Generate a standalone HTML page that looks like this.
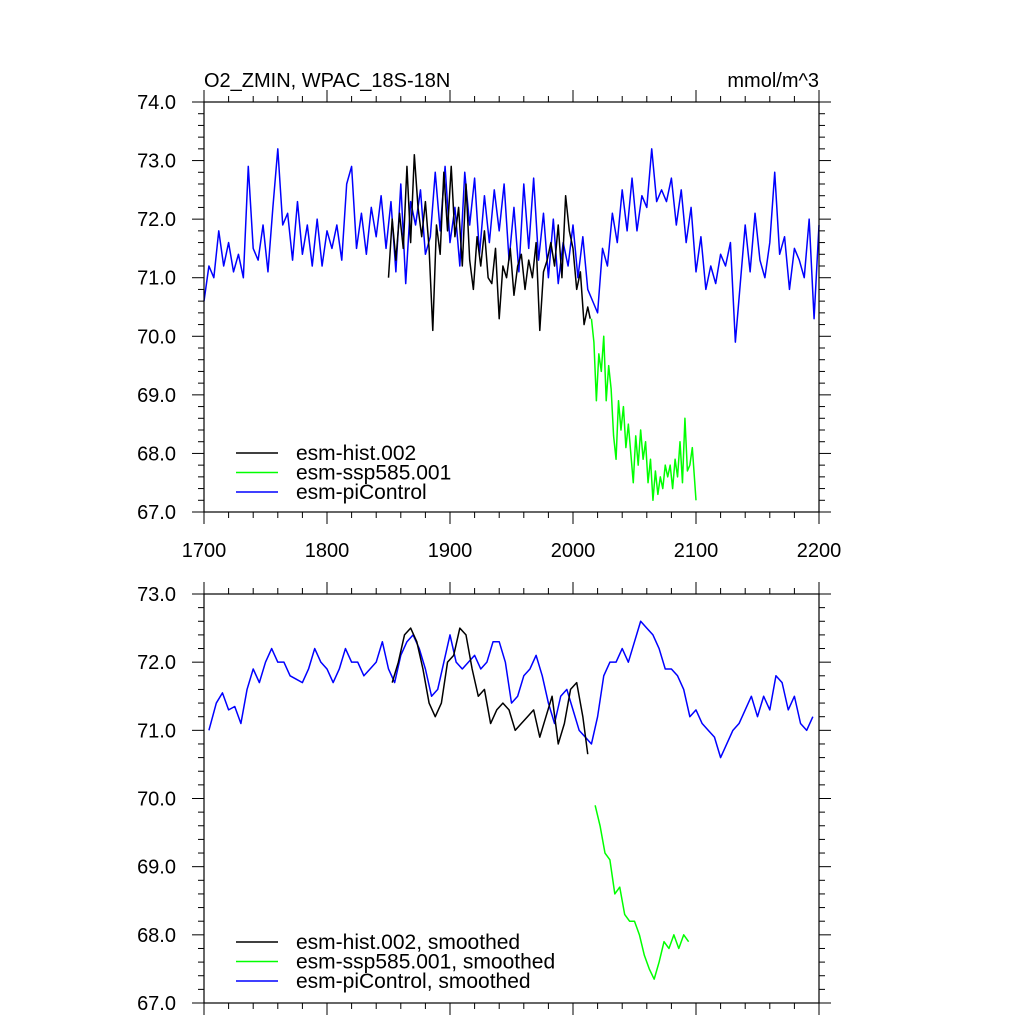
<!DOCTYPE html>
<html><head><meta charset="utf-8"><style>
body{margin:0;background:#fff}svg{display:block;font-family:"Liberation Sans",sans-serif}
</style></head><body>
<svg id="c" width="1024" height="1024"></svg>
<script>
const piYears=[];for(let y=1700;y<=2200;y+=4)piYears.push(y);
const piValues=[70.6,71.2,71.0,71.8,71.2,71.6,71.1,71.4,71.0,72.9,71.5,71.3,71.9,71.1,72.2,73.2,71.9,72.1,71.3,72.3,71.4,71.9,71.2,72.0,71.2,71.8,71.5,71.9,71.3,72.6,72.9,71.5,72.1,71.4,72.2,71.7,72.4,71.5,72.3,71.1,72.6,70.9,72.3,71.9,72.5,71.4,71.7,72.8,71.8,72.9,71.6,72.2,71.2,72.8,71.9,72.7,71.4,72.4,71.6,72.5,71.8,72.6,71.3,72.2,71.1,72.6,71.5,72.7,71.3,72.1,71.0,72.0,70.9,71.6,71.2,71.9,71.0,71.7,70.8,70.6,70.4,71.5,71.2,72.1,71.6,72.5,71.8,72.7,71.8,72.4,72.2,73.2,72.3,72.5,72.3,72.7,71.9,72.5,71.6,72.2,71.1,71.7,70.8,71.2,70.9,71.4,71.2,71.6,69.9,70.9,71.9,71.1,72.1,71.3,71.0,71.6,72.8,71.4,71.7,70.8,71.5,71.3,71.0,72.0,70.3,71.9];
const histYears=[1850,1853,1856,1859,1862,1865,1868,1871,1874,1877,1880,1883,1886,1889,1892,1895,1898,1901,1904,1907,1910,1913,1916,1919,1922,1925,1928,1931,1934,1937,1940,1943,1946,1949,1952,1955,1958,1961,1964,1967,1970,1973,1976,1979,1982,1985,1988,1991,1994,1997,2000,2003,2006,2009,2012,2014];
const histValues=[71.0,72.0,71.3,72.1,71.5,72.9,71.6,73.1,72.2,71.7,72.3,71.5,70.1,71.9,71.4,72.8,71.8,72.9,71.7,72.2,71.2,72.6,71.3,70.8,71.7,71.2,71.8,71.0,70.9,71.5,70.3,71.2,71.0,71.5,70.7,71.2,71.4,70.8,71.3,71.0,71.6,70.1,71.1,71.3,71.6,71.2,71.9,71.0,72.4,71.8,71.5,70.8,71.1,70.2,70.5,70.3];
const sspYears=[2015,2017,2019,2021,2023,2025,2027,2029,2031,2033,2035,2037,2039,2041,2043,2045,2047,2049,2051,2053,2055,2057,2059,2061,2063,2065,2067,2069,2071,2073,2075,2077,2079,2081,2083,2085,2087,2089,2091,2093,2095,2097,2099,2100];
const sspValues=[70.3,69.9,68.9,69.7,69.4,70.0,68.9,69.5,69.1,68.3,67.9,68.9,68.4,68.8,68.1,68.5,68.0,67.5,68.3,67.8,68.4,67.9,68.2,67.5,67.9,67.2,67.7,67.3,67.6,67.4,67.8,67.6,67.8,67.4,67.9,67.6,68.2,67.5,68.6,67.7,67.8,68.1,67.5,67.2];
const piSmYears=[1704];for(let y=1710;y<=2195;y+=5)piSmYears.push(y);
const piSmValues=[71.0,71.4,71.55,71.3,71.35,71.1,71.6,71.9,71.7,72.0,72.2,72.0,72.0,71.8,71.75,71.7,71.9,72.2,72.0,71.9,71.7,71.9,72.2,72.0,72.0,71.8,71.9,72.0,72.3,71.9,71.7,72.1,72.3,72.4,72.2,71.9,71.5,71.6,72.0,72.4,72.0,71.9,72.0,72.1,71.9,72.0,72.3,72.3,72.0,71.4,71.5,71.8,71.9,72.1,71.8,71.4,71.1,71.5,71.6,71.3,71.0,70.9,70.8,71.2,71.8,72.0,72.0,72.2,72.0,72.3,72.6,72.5,72.4,72.2,71.9,71.9,71.8,71.6,71.2,71.3,71.1,71.0,70.9,70.6,70.8,71.0,71.1,71.3,71.5,71.2,71.5,71.3,71.8,71.7,71.3,71.5,71.1,71.0,71.2];
const histSmYears=[1853,1858,1863,1868,1873,1878,1883,1888,1893,1898,1903,1908,1913,1918,1923,1928,1933,1938,1943,1948,1953,1958,1963,1968,1973,1978,1983,1988,1993,1998,2003,2008,2012];
const histSmValues=[71.7,72.0,72.4,72.5,72.3,71.9,71.4,71.2,71.4,72.0,72.1,72.5,72.4,71.9,71.5,71.6,71.1,71.3,71.4,71.3,71.0,71.1,71.2,71.3,70.9,71.2,71.5,70.8,71.1,71.6,71.7,71.2,70.65];
const sspSmYears=[2018,2022,2026,2030,2034,2038,2042,2046,2050,2054,2058,2062,2066,2070,2074,2078,2082,2086,2090,2094];
const sspSmValues=[69.9,69.6,69.2,69.1,68.6,68.7,68.3,68.2,68.2,68.0,67.7,67.5,67.35,67.6,67.9,67.8,68.0,67.8,68.0,67.9];
const xTicks=[1700,1800,1900,2000,2100,2200];
const topYTicks=[67,68,69,70,71,72,73,74];
const botYTicks=[67,68,69,70,71,72,73];

const NS="http://www.w3.org/2000/svg",svg=document.getElementById('c');
function mk(t,a,p){const e=document.createElementNS(NS,t);for(const k in a)e.setAttribute(k,a[k]);(p||svg).appendChild(e);return e;}
const X0=204,X1=819;
const xs=v=>X0+(v-1700)/500*(X1-X0);
function panel(name,top,bot,ymin,ymax,yt,series,legend,ly,xlabels){
  const g=mk('g',{});
  
  
  const ys=v=>bot-(v-ymin)/(ymax-ymin)*(bot-top);
  series.forEach(s=>{
    const pl=mk('polyline',{points:s.x.map((x,i)=>xs(x)+','+ys(s.y[i])).join(' '),fill:'none',stroke:s.c,'stroke-width':1.5,'stroke-linejoin':'round'},g);
    
    
  });
  mk('rect',{x:X0,y:top,width:X1-X0,height:bot-top,fill:'none',stroke:'#000','stroke-width':1.2},g);
  for(let v=ymin;v<=ymax+1e-6;v+=0.2){const y=ys(v),maj=Math.abs(v-Math.round(v))<1e-6,l=maj?12:6;
    mk('line',{x1:X0,x2:X0-l,y1:y,y2:y,stroke:'#000'},g);mk('line',{x1:X1,x2:X1+l,y1:y,y2:y,stroke:'#000'},g);}
  yt.forEach(v=>{const t=mk('text',{x:176,y:ys(v)+7,'text-anchor':'end','font-size':20},g);t.textContent=v.toFixed(1);
    });
  for(let v=1700;v<=2200;v+=20){const x=xs(v),maj=v%100==0,l=maj?12:6;
    mk('line',{x1:x,x2:x,y1:bot,y2:bot+l,stroke:'#000'},g);mk('line',{x1:x,x2:x,y1:top,y2:top-l,stroke:'#000'},g);}
  if(xlabels)xTicks.forEach(v=>{const t=mk('text',{x:xs(v),y:bot+45,'text-anchor':'middle','font-size':20},g);t.textContent=v;
    });
  legend.forEach((L,i)=>{const y=ly+i*19.5;
    mk('line',{x1:236,x2:278,y1:y,y2:y,stroke:L.c,'stroke-width':1.5},g);
    const t=mk('text',{x:296,y:y+7,'font-size':21},g);t.textContent=L.t;
    });
}
panel('top-panel',102,512,67,74,topYTicks,[
 {x:piYears,y:piValues,c:'#0000ff',n:'pi-control-line'},
 {x:histYears,y:histValues,c:'#000',n:'hist-line'},
 {x:sspYears,y:sspValues,c:'#00ff00',n:'ssp585-line'}],
 [{c:'#000',t:'esm-hist.002'},{c:'#00ff00',t:'esm-ssp585.001'},{c:'#0000ff',t:'esm-piControl'}],453,true);
panel('bottom-panel',594,1003,67,73,botYTicks,[
 {x:piSmYears,y:piSmValues,c:'#0000ff',n:'pi-control-smoothed-line'},
 {x:histSmYears,y:histSmValues,c:'#000',n:'hist-smoothed-line'},
 {x:sspSmYears,y:sspSmValues,c:'#00ff00',n:'ssp585-smoothed-line'}],
 [{c:'#000',t:'esm-hist.002, smoothed'},{c:'#00ff00',t:'esm-ssp585.001, smoothed'},{c:'#0000ff',t:'esm-piControl, smoothed'}],942,false);
let t=mk('text',{x:204,y:87,'font-size':20});t.textContent='O2_ZMIN, WPAC_18S-18N';

t=mk('text',{x:819,y:87,'font-size':20,'text-anchor':'end'});t.textContent='mmol/m^3';

</script>
</body></html>
